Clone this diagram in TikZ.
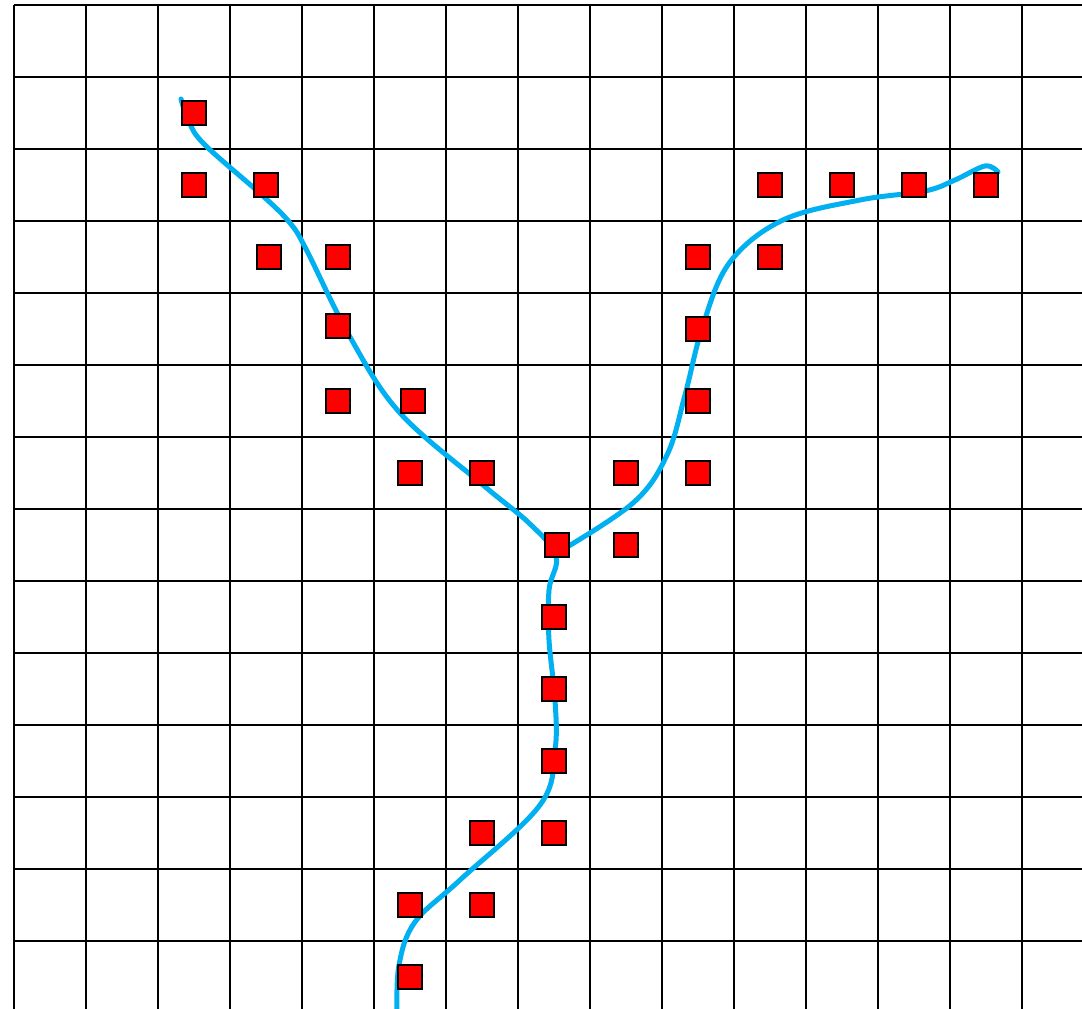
\documentclass[tikz,border=0pt]{standalone}
\definecolor{curveblue}{RGB}{0,176,240}
\tikzset{
  gridline/.style={line width=2.4pt, black},
  cell/.style={rectangle, draw=black, line width=2.2pt, fill=red, minimum size=24.5pt, inner sep=0pt},
  route/.style={line width=5pt, curveblue, line cap=round, line join=round}
}
\begin{document}
\begin{tikzpicture}[x=1pt,y=-1pt]
\useasboundingbox (0,0) rectangle (1082,1009);
\clip (0,0) rectangle (1082,1009);
\fill[white] (0,0) rectangle (1082,1009);
% grid
\foreach \i in {0,...,14} \draw[gridline] ({14+72*\i},5) -- ({14+72*\i},1015);
\foreach \j in {0,...,13} \draw[gridline] (14,{5+72*\j}) -- (1090,{5+72*\j});
% curve
\draw[route] plot[smooth, tension=0.6] coordinates {
 (181,99) (189,122) (205,145) (263,196) (290,223) (306,249) (350,337)
 (400,413) (483,485) (530,524) (556,556) (549,590) (549,640) (555,700)
 (555,750) (540,805) (460,880) (415,922) (399,965) (397,1015)};
\draw[route] plot[smooth, tension=0.6] coordinates {
 (557,553) (633,503) (667,455) (685,395) (703,325) (730,262) (783,220)
 (860,200) (925,191) (955,180) (985,166) (998,172)};
% squares
\node[cell] (s1) at (194,113) {};
\node[cell] (s2) at (194,185) {};
\node[cell] (s3) at (266,185) {};
\node[cell] (s4) at (269,257) {};
\node[cell] (s5) at (338,257) {};
\node[cell] (s6) at (338,326) {};
\node[cell] (s7) at (338,401) {};
\node[cell] (s8) at (413,401) {};
\node[cell] (s9) at (410,473) {};
\node[cell] (s10) at (482,473) {};
\node[cell] (s11) at (557,545) {};
\node[cell] (s12) at (626,545) {};
\node[cell] (s13) at (626,473) {};
\node[cell] (s14) at (698,473) {};
\node[cell] (s15) at (698,401) {};
\node[cell] (s16) at (698,329) {};
\node[cell] (s17) at (698,257) {};
\node[cell] (s18) at (770,257) {};
\node[cell] (s19) at (770,185) {};
\node[cell] (s20) at (842,185) {};
\node[cell] (s21) at (914,185) {};
\node[cell] (s22) at (986,185) {};
\node[cell] (s23) at (554,617) {};
\node[cell] (s24) at (554,689) {};
\node[cell] (s25) at (554,761) {};
\node[cell] (s26) at (554,833) {};
\node[cell] (s27) at (482,833) {};
\node[cell] (s28) at (482,905) {};
\node[cell] (s29) at (410,905) {};
\node[cell] (s30) at (410,977) {};
\end{tikzpicture}
\end{document}
